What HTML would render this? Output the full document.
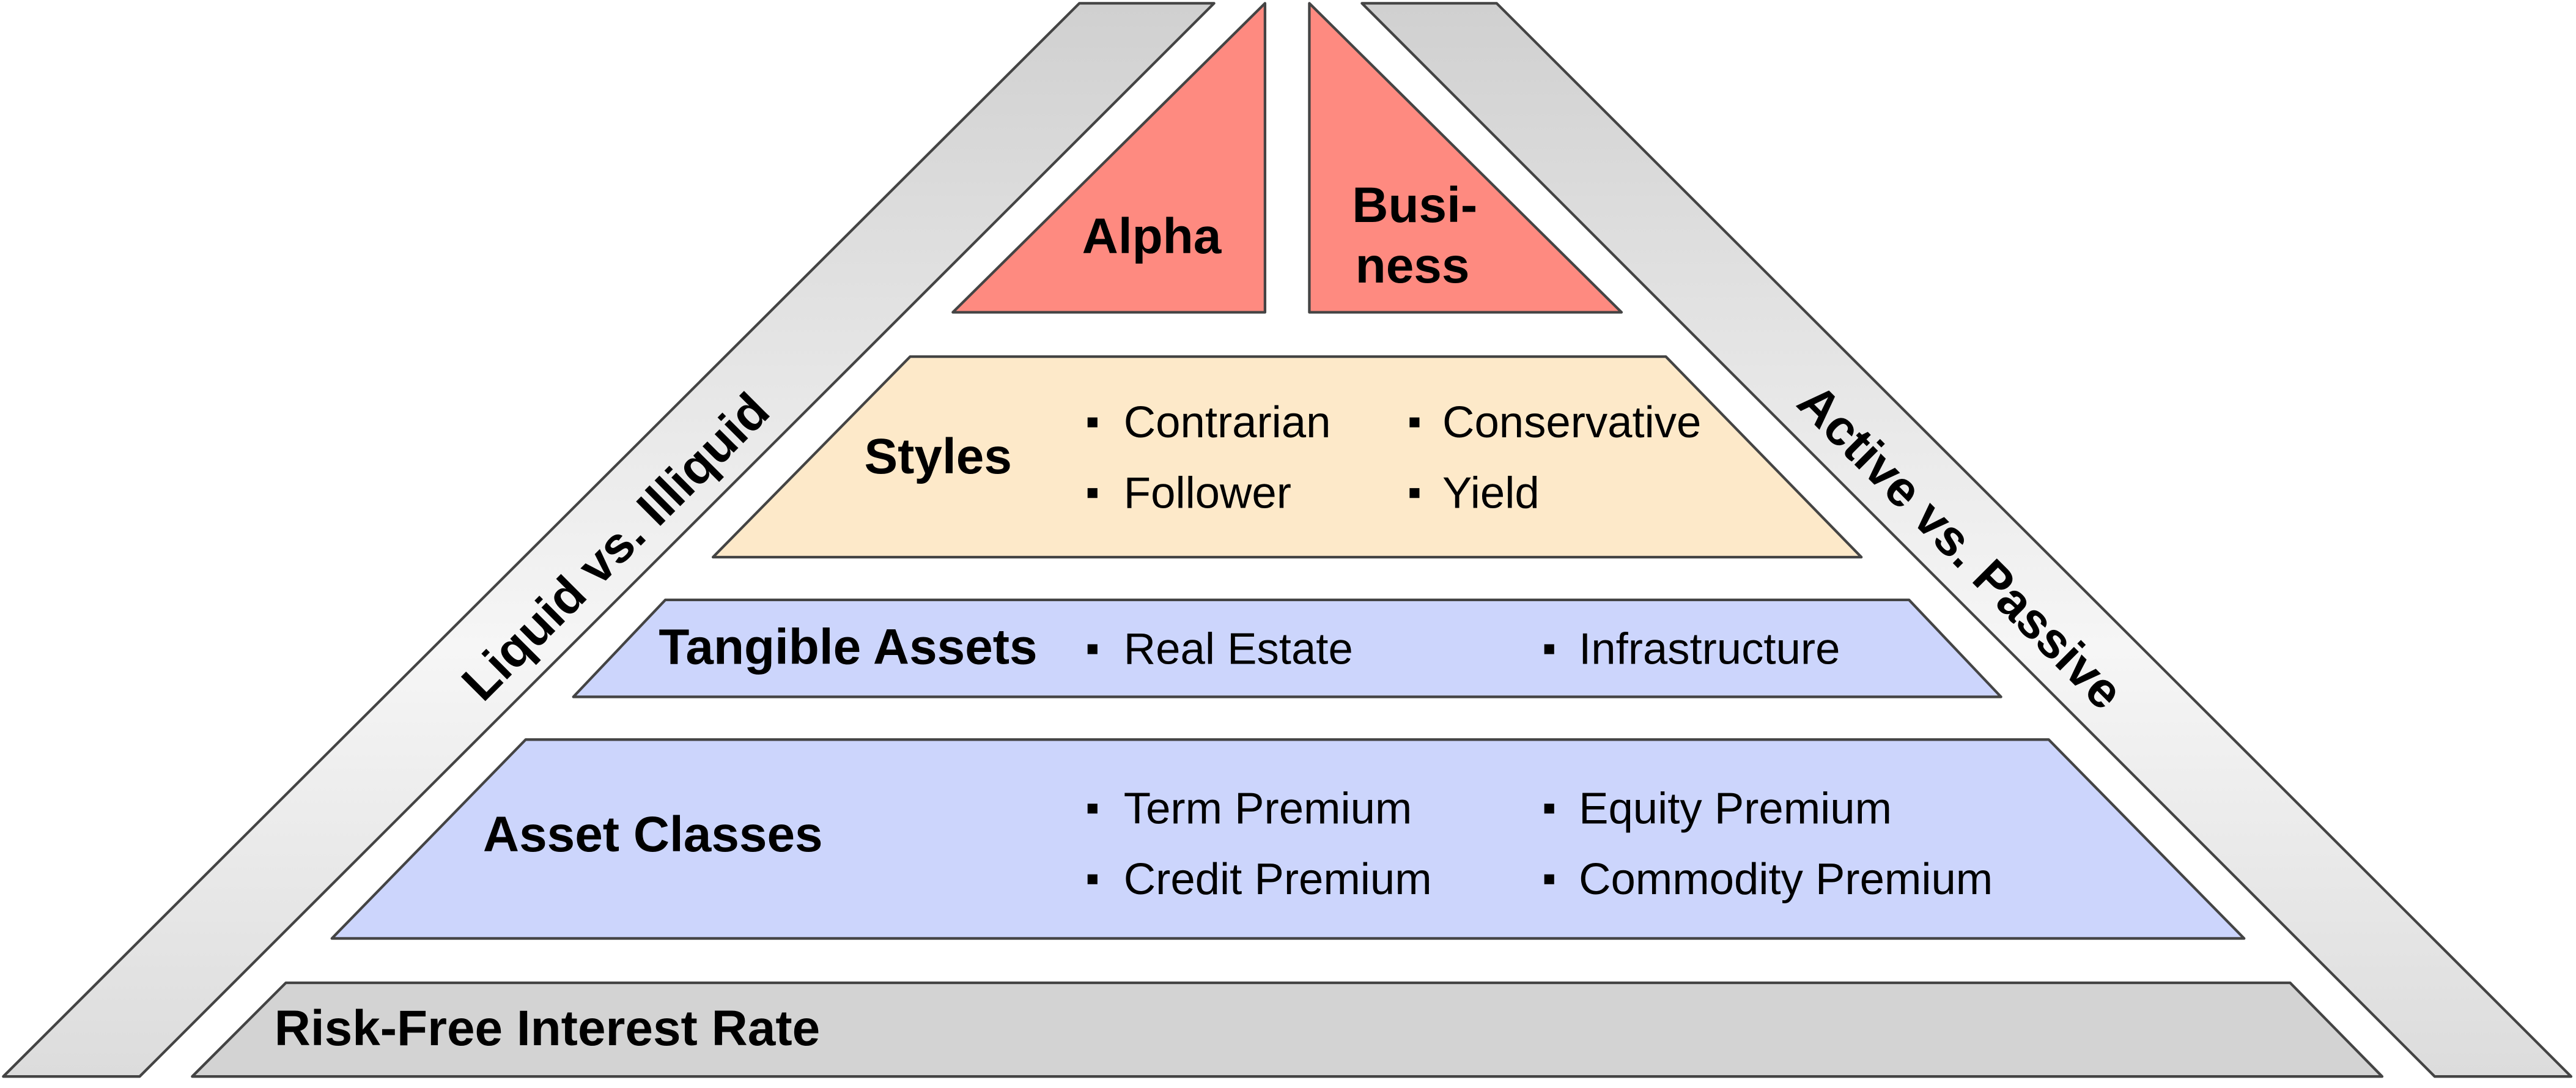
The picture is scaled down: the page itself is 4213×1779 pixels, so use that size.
<!DOCTYPE html>
<html><head><meta charset="utf-8"><style>
html,body{margin:0;padding:0;background:#fff;}
svg{display:block;}
text{font-family:"Liberation Sans",Arial,sans-serif;fill:#000;}
.b{font-weight:bold;font-size:30.5px;}
.r{font-size:27px;}
</style></head><body>
<svg width="4213" height="1779" viewBox="0 0 1568 662" preserveAspectRatio="none" xmlns="http://www.w3.org/2000/svg">
<defs>
<linearGradient id="g" x1="0" y1="0" x2="0" y2="1">
<stop offset="0" stop-color="#d0d0d0"/>
<stop offset="0.6" stop-color="#f6f6f6"/>
<stop offset="1" stop-color="#dcdcdc"/>
</linearGradient>
</defs>
<g stroke="#444" stroke-width="1.6" stroke-linejoin="round">
<polygon points="657,2 739,2 85,655 2,655" fill="url(#g)"/>
<polygon points="829,2 911,2 1565,655 1482,655" fill="url(#g)"/>
<polygon points="770,2 770,190 580,190" fill="#fe8a80"/>
<polygon points="797,2 797,190 987,190" fill="#fe8a80"/>
<polygon points="554,217 1014,217 1133,339 434,339" fill="#fde9c9"/>
<polygon points="405,365 1162,365 1218,424 349,424" fill="#ccd5fc"/>
<polygon points="320,450 1247,450 1366,571 202,571" fill="#ccd5fc"/>
<polygon points="174,598 1394,598 1450,655 117,655" fill="#d3d3d3"/>
</g>
<text class="b" x="701" y="154" text-anchor="middle">Alpha</text>
<text class="b" x="823" y="135">Busi-</text>
<text class="b" x="825" y="172">ness</text>
<text class="b" x="571" y="288" text-anchor="middle">Styles</text>
<g fill="#000">
<rect x="662" y="254" width="6" height="6"/><rect x="858" y="254" width="6" height="6"/>
<rect x="662" y="297" width="6" height="6"/><rect x="858" y="297" width="6" height="6"/>
<rect x="662" y="392" width="6" height="6"/><rect x="940" y="392" width="6" height="6"/>
<rect x="662" y="489" width="6" height="6"/><rect x="940" y="489" width="6" height="6"/>
<rect x="662" y="532" width="6" height="6"/><rect x="940" y="532" width="6" height="6"/>
</g>
<text class="r" x="684" y="266">Contrarian</text>
<text class="r" x="878" y="266">Conservative</text>
<text class="r" x="684" y="309">Follower</text>
<text class="r" x="878" y="309">Yield</text>
<text class="b" x="401" y="404">Tangible Assets</text>
<text class="r" x="684" y="404">Real Estate</text>
<text class="r" x="961" y="404">Infrastructure</text>
<text class="b" x="294" y="518">Asset Classes</text>
<text class="r" x="684" y="501">Term Premium</text>
<text class="r" x="961" y="501">Equity Premium</text>
<text class="r" x="684" y="544">Credit Premium</text>
<text class="r" x="961" y="544">Commodity Premium</text>
<text class="b" x="167" y="636">Risk-Free Interest Rate</text>
<text class="b" x="0" y="0" text-anchor="middle" transform="translate(382,340) rotate(-45)">Liquid vs. Illiquid</text>
<text class="b" x="0" y="0" text-anchor="middle" transform="translate(1186,340) rotate(45)">Active vs. Passive</text>
</svg>
</body></html>
